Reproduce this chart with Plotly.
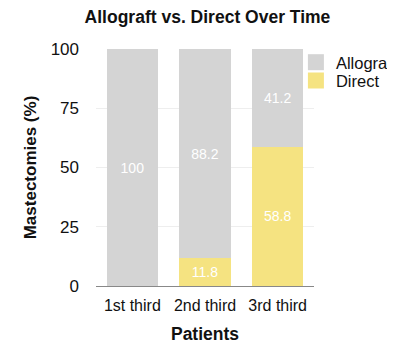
import plotly.graph_objects as go

categories = ["1st third", "2nd third", "3rd third"]
allograft = [100, 88.2, 41.2]
direct = [0, 11.8, 58.8]
direct_text = ["", "11.8", "58.8"]
allograft_text = ["100", "88.2", "41.2"]

font_family = "Liberation Sans, Arial, Helvetica, sans-serif"
grey = "#d4d4d4"
yellow = "#f5e381"

fig = go.Figure()
fig.add_trace(go.Bar(
    x=categories, y=direct, name="Direct", showlegend=False,
    marker=dict(color=yellow, line=dict(width=0)),
    text=direct_text, textposition="inside", insidetextanchor="middle",
    textfont=dict(color="white", size=14, family=font_family),
))
fig.add_trace(go.Bar(
    x=categories, y=allograft, name="Allograft", showlegend=False,
    marker=dict(color=grey, line=dict(width=0)),
    text=allograft_text, textposition="inside", insidetextanchor="middle",
    textfont=dict(color="white", size=14, family=font_family),
))
# legend entries
fig.add_trace(go.Scatter(
    x=[None], y=[None], mode="markers", name="Allograft", legend="legend",
    marker=dict(symbol="square", size=16, color=grey),
))
fig.add_trace(go.Scatter(
    x=[None], y=[None], mode="markers", name="Direct", legend="legend2",
    marker=dict(symbol="square", size=16, color=yellow),
))

legend_common = dict(xanchor="left", yanchor="top", font=dict(size=16.5),
                     bgcolor="rgba(0,0,0,0)", itemwidth=30)

fig.update_layout(
    width=387, height=336,
    barmode="stack", bargap=0.29,
    plot_bgcolor="white", paper_bgcolor="white",
    margin=dict(l=88, r=81, t=41, b=58, autoexpand=False),
    font=dict(family=font_family, color="#111111", size=16),
    title=dict(text="<b>Allograft vs. Direct Over Time</b>", x=0.5155, xanchor="center",
               xref="container", yref="container",
               y=0.975, yanchor="middle", font=dict(size=17.5, color="#111111"),
               automargin=False),
    legend=dict(x=0.917, y=1.017, **legend_common),
    legend2=dict(x=0.917, y=0.94, **legend_common),
    showlegend=True,
    uniformtext=dict(mode="show", minsize=10),
)
fig.update_xaxes(
    automargin=False, range=[-0.5, 2.5],
    showgrid=False, showline=True, linecolor="#888888", linewidth=1,
    ticks="", tickfont=dict(size=16), ticklabelstandoff=5,
    title=dict(text="<b>Patients</b>", font=dict(size=17.5), standoff=16),
)
fig.update_yaxes(
    automargin=False,
    range=[0, 100], tickvals=[0, 25, 50, 75, 100],
    showgrid=True, gridcolor="#eeeeee", gridwidth=1,
    zeroline=False, showline=False, ticks="", ticklabelstandoff=16,
    tickfont=dict(size=17),
    title=dict(text="<b>Mastectomies (%)</b>", font=dict(size=17), standoff=9),
)

fig.write_html("out.html")
